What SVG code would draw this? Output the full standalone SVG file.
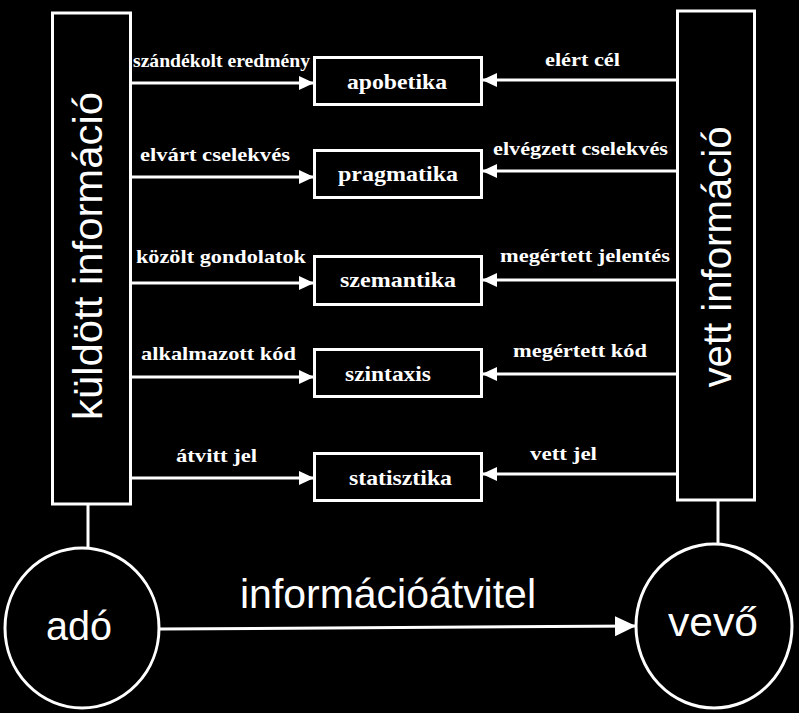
<svg xmlns="http://www.w3.org/2000/svg" width="799" height="713" viewBox="0 0 799 713">
<style>
.bg{fill:#000}
.box{fill:#000;stroke:#fff;stroke-width:3}
.ln{stroke:#fff;stroke-width:3;fill:none}
.lbl{fill:#fff;font-family:"Liberation Serif","Times New Roman",serif;font-weight:bold;font-size:19px}
.blbl{fill:#fff;font-family:"Liberation Serif","Times New Roman",serif;font-weight:bold;font-size:21px}
.big{fill:#fff;font-family:"Liberation Sans",Arial,sans-serif;font-size:40px}
</style>
<defs>
<marker id="ah" markerUnits="userSpaceOnUse" markerWidth="16" markerHeight="16" refX="15" refY="7" orient="auto">
<polygon points="0,0 15,7 0,14" fill="#fff"/>
</marker>
<marker id="ahb" markerUnits="userSpaceOnUse" markerWidth="22" markerHeight="22" refX="21" refY="10" orient="auto">
<polygon points="0,0 21,10 0,20" fill="#fff"/>
</marker>
</defs>
<rect class="bg" x="0" y="0" width="799" height="713"/>

<g id="connectors">
<line class="ln" x1="131" y1="83" x2="314" y2="83" marker-end="url(#ah)"/>
<line class="ln" x1="131" y1="177" x2="314" y2="177" marker-end="url(#ah)"/>
<line class="ln" x1="131" y1="283" x2="314" y2="283" marker-end="url(#ah)"/>
<line class="ln" x1="131" y1="377" x2="314" y2="377" marker-end="url(#ah)"/>
<line class="ln" x1="131" y1="478" x2="314" y2="478" marker-end="url(#ah)"/>
<line class="ln" x1="677" y1="80" x2="482" y2="80" marker-end="url(#ah)"/>
<line class="ln" x1="677" y1="171" x2="482" y2="171" marker-end="url(#ah)"/>
<line class="ln" x1="677" y1="280" x2="482" y2="280" marker-end="url(#ah)"/>
<line class="ln" x1="677" y1="374" x2="482" y2="374" marker-end="url(#ah)"/>
<line class="ln" x1="677" y1="474" x2="482" y2="474" marker-end="url(#ah)"/>
<line class="ln" x1="88" y1="504" x2="88" y2="548"/>
<line class="ln" x1="718" y1="500" x2="718" y2="544"/>
<line class="ln" x1="159" y1="629" x2="636" y2="626" marker-end="url(#ahb)"/>
<text class="lbl" x="133" y="67" textLength="177" lengthAdjust="spacingAndGlyphs">szándékolt eredmény</text>
<text class="lbl" x="140" y="161" textLength="150" lengthAdjust="spacingAndGlyphs">elvárt cselekvés</text>
<text class="lbl" x="136" y="263" textLength="170" lengthAdjust="spacingAndGlyphs">közölt gondolatok</text>
<text class="lbl" x="141" y="360" textLength="155" lengthAdjust="spacingAndGlyphs">alkalmazott kód</text>
<text class="lbl" x="176" y="462" textLength="81" lengthAdjust="spacingAndGlyphs">átvitt jel</text>
<text class="lbl" x="545" y="66" textLength="75" lengthAdjust="spacingAndGlyphs">elért cél</text>
<text class="lbl" x="493" y="155" textLength="175" lengthAdjust="spacingAndGlyphs">elvégzett cselekvés</text>
<text class="lbl" x="500" y="262" textLength="170" lengthAdjust="spacingAndGlyphs">megértett jelentés</text>
<text class="lbl" x="513" y="357" textLength="134" lengthAdjust="spacingAndGlyphs">megértett kód</text>
<text class="lbl" x="530" y="460" textLength="67" lengthAdjust="spacingAndGlyphs">vett jel</text>
<text class="big" x="240" y="608" textLength="296" lengthAdjust="spacingAndGlyphs">információátvitel</text>
</g>

<g id="kuldott">
<rect class="box" x="52.5" y="13" width="78" height="491"/>
<text class="big" transform="translate(102,256) rotate(-90)" text-anchor="middle" textLength="328" lengthAdjust="spacingAndGlyphs">küldött információ</text>
</g>
<g id="vett">
<rect class="box" x="677.5" y="11" width="77" height="489"/>
<text class="big" transform="translate(731,257) rotate(-90)" text-anchor="middle" textLength="261" lengthAdjust="spacingAndGlyphs">vett információ</text>
</g>

<g id="apobetika">
<rect class="box" x="314.5" y="57.5" width="167" height="47"/>
<text class="blbl" x="347" y="89" textLength="100" lengthAdjust="spacingAndGlyphs">apobetika</text>
</g>
<g id="pragmatika">
<rect class="box" x="314.5" y="150.5" width="167" height="47"/>
<text class="blbl" x="338" y="181" textLength="120" lengthAdjust="spacingAndGlyphs">pragmatika</text>
</g>
<g id="szemantika">
<rect class="box" x="314.5" y="256.5" width="167" height="48"/>
<text class="blbl" x="340" y="287" textLength="116" lengthAdjust="spacingAndGlyphs">szemantika</text>
</g>
<g id="szintaxis">
<rect class="box" x="314.5" y="349.5" width="167" height="47"/>
<text class="blbl" x="345" y="381" textLength="86" lengthAdjust="spacingAndGlyphs">szintaxis</text>
</g>
<g id="statisztika">
<rect class="box" x="314.5" y="453.5" width="167" height="47"/>
<text class="blbl" x="349" y="485" textLength="103" lengthAdjust="spacingAndGlyphs">statisztika</text>
</g>

<g id="ado">
<ellipse class="box" cx="82" cy="628" rx="77" ry="80"/>
<text class="big" x="46" y="640" font-size="41" textLength="66" lengthAdjust="spacingAndGlyphs">adó</text>
</g>
<g id="vevo">
<ellipse class="box" cx="714" cy="626" rx="78" ry="82"/>
<text class="big" x="668" y="636" font-size="41" textLength="90" lengthAdjust="spacingAndGlyphs">vevő</text>
</g>
</svg>
